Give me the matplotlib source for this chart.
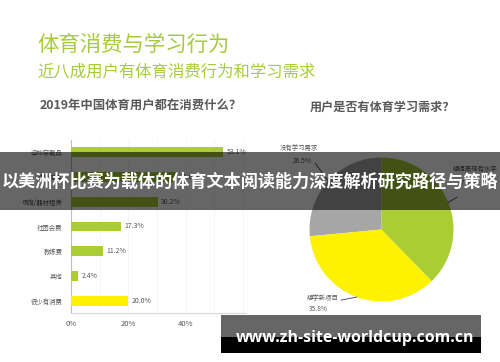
import numpy as np
import matplotlib
matplotlib.use("Agg")
import matplotlib.pyplot as plt
from matplotlib.patches import Rectangle

plt.rcParams['font.family'] = ['Noto Sans CJK SC', 'DejaVu Sans']

# ---- data ----
main_title = "体育消费与学习行为"
sub_title = "近八成用户有体育消费行为和学习需求"
bar_title = "2019年中国体育用户都在消费什么？"
pie_title = "用户是否有体育学习需求？"
categories = ['运动穿戴品', '运动用具', '场馆/器材租赁', '社团会费', '教练费', '其他', '很少有消费']
values = [53.1, 36.6, 30.2, 17.3, 11.2, 2.4, 20.0]
x_ticks = [0, 20, 40, 60]
x_tick_labels = ['0%', '20%', '40%', '60%']
pie_labels = ['没有学习需求', '想学新项目', '想提高现有水平']
pie_values = [26.5, 35.8, 37.7]
band_text = "以美洲杯比赛为载体的体育文本阅读能力深度解析研究路径与策略"
watermark = "www.zh-site-worldcup.com.cn"

GREEN = '#A9CD33'
YELLOW = '#FFF200'
GRAY = '#A6A6A6'
TXT = '#595959'
TITLE_GREEN = '#A8CB3C'

W, H = 500, 362
fig = plt.figure(figsize=(W / 100, H / 100), dpi=100)
fig.patch.set_facecolor('white')

def fx(x):
    return x / W

def fy(y):
    return 1 - y / H

# titles
fig.text(fx(37), fy(45), main_title, color=TITLE_GREEN, fontsize=15.4, ha='left', va='center')
fig.text(fx(37), fy(72), sub_title, color=TITLE_GREEN, fontsize=11.8, ha='left', va='center')
fig.text(fx(40), fy(106), bar_title, color=TXT, fontsize=8.9, fontweight='bold', ha='left', va='center')
fig.text(fx(310), fy(107.5), pie_title, color=TXT, fontsize=8.7, fontweight='bold', ha='left', va='center')

# ---- bar chart ----
ax = fig.add_axes([fx(71), fy(313), 175 / W, 173 / H])
ypos = np.arange(len(categories))
colors = [GREEN] * (len(categories) - 1) + [YELLOW]
ax.barh(ypos, values, height=0.4, color=colors, zorder=3)
for y, v in zip(ypos, values):
    ax.text(v + 1.2, y, f"{v:.1f}%", va='center', ha='left', fontsize=5, color=TXT)
ax.set_ylim(len(categories) - 0.5, -0.5)
ax.set_xlim(0, 61)
ax.set_yticks(ypos)
ax.set_yticklabels(categories, fontsize=4.6, color=TXT)
ax.set_xticks(x_ticks)
ax.set_xticklabels(x_tick_labels, fontsize=5.5, color=TXT)
ax.tick_params(axis='both', length=0)
ax.tick_params(axis='y', pad=6)
ax.tick_params(axis='x', pad=5)
for s in ['top', 'right']:
    ax.spines[s].set_visible(False)
ax.spines['left'].set_color('#BFBFBF')
ax.spines['bottom'].set_color('#D9D9D9')
ax.spines['left'].set_linewidth(0.8)
ax.spines['bottom'].set_linewidth(0.8)
ax.set_xticks(np.arange(10, 61, 10), minor=True)
ax.tick_params(axis='x', which='minor', length=0)
ax.grid(axis='x', which='both', color='#F5F5F5', linewidth=0.6, zorder=0)

# ---- pie chart ----
cx, cy, r = 381.5, 229.5, 72
ax2 = fig.add_axes([fx(cx - r), fy(cy + r), 2 * r / W, 2 * r / H])
wedges, _ = ax2.pie(pie_values, colors=[GRAY, YELLOW, GREEN], startangle=90,
                    counterclock=True, radius=1,
                    wedgeprops=dict(linewidth=0))
ax2.set_xlim(-1, 1)
ax2.set_ylim(-1, 1)
ax2.set_aspect('equal')

# label positions (offsets relative to pie, in radius units)
label_specs = [
    # (leader end, name pos, name ha, pct pos, pct ha)
    ((-0.92, 0.92), (-1.15, 1.13), 'center', (-1.10, 0.95), 'center'),
    ((-0.56, -0.98), (-0.60, -0.955), 'right', (-0.88, -1.10), 'center'),
    ((1.05, 0.45), (0.99, 0.84), 'left', (1.20, 0.64), 'center'),
]
for w, name, val, spec in zip(wedges, pie_labels, pie_values, label_specs):
    mid = np.deg2rad((w.theta1 + w.theta2) / 2)
    sx, sy = np.cos(mid), np.sin(mid)
    (ex, ey), (nx, ny), nha, (px, py), pha = spec
    ax2.plot([sx, ex], [sy, ey], color='#404040', linewidth=0.6, clip_on=False)
    ax2.text(nx, ny, name, fontsize=4.6, color=TXT, ha=nha, va='center', clip_on=False)
    ax2.text(px, py, f"{val:.1f}%", fontsize=4.8, color=TXT, ha=pha, va='center', clip_on=False)

# ---- overlay band ----
fig.add_artist(Rectangle((0, fy(210)), 1, 58 / H, transform=fig.transFigure,
                         facecolor='black', alpha=0.6, edgecolor='none', zorder=10))
fig.text(0.5, fy(182), band_text, color='white', fontsize=12.3, fontweight='bold',
         ha='center', va='center', zorder=11)

# ---- watermark box ----
fig.add_artist(Rectangle((fx(221), fy(337)), 260 / W, 22 / H, transform=fig.transFigure,
                         facecolor='#666666', edgecolor='none', zorder=10))
fig.add_artist(Rectangle((fx(221), fy(353)), 260 / W, 16 / H, transform=fig.transFigure,
                         facecolor='black', edgecolor='none', zorder=10))
fig.text(fx(355), fy(338), watermark, color='white', fontsize=11.4, fontweight='bold',
         family='Open Sans', ha='center', va='center', zorder=11)

fig.savefig('out.png', dpi=100)
